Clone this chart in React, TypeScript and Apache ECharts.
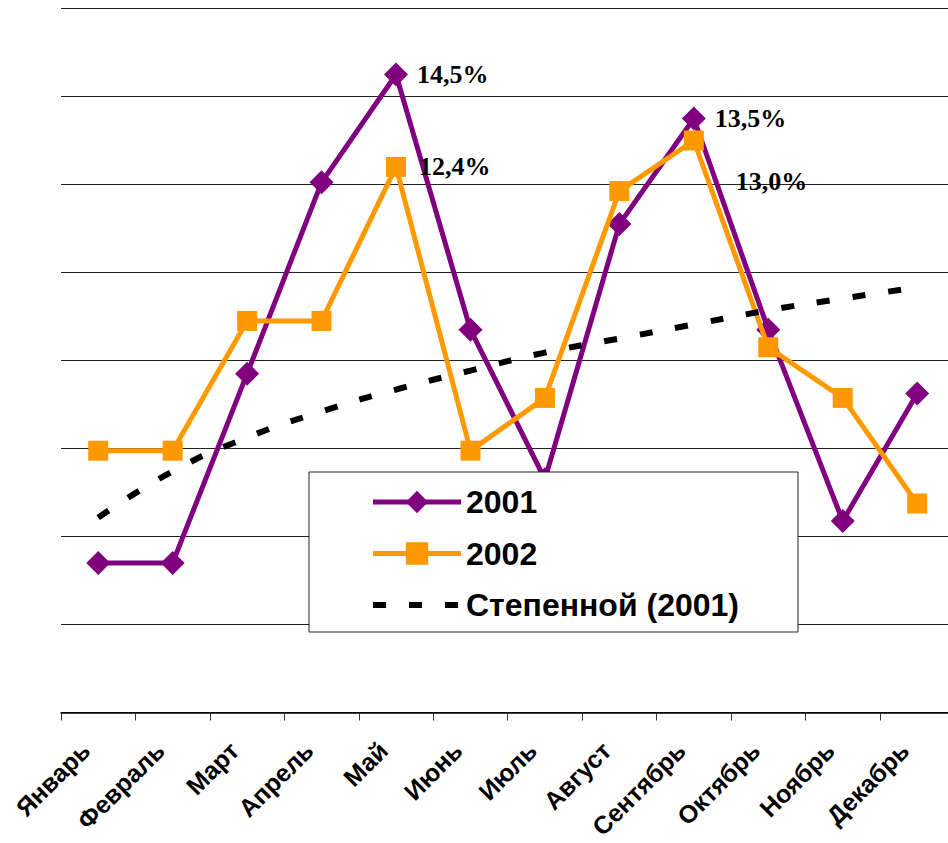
import React, { useEffect, useRef } from "react";
import * as echarts from "echarts";

const categories = ["Январь", "Февраль", "Март", "Апрель", "Май", "Июнь", "Июль", "Август", "Сентябрь", "Октябрь", "Ноябрь", "Декабрь"];
const values2001 = [3.4, 3.4, 7.7, 12.05, 14.5, 8.7, 5.3, 11.1, 13.5, 8.7, 4.35, 7.25];
const values2002 = [5.95, 5.95, 8.9, 8.9, 12.4, 5.95, 7.15, 11.85, 13.0, 8.3, 7.15, 4.75];
const trend2001 = [4.43, 5.48, 6.25, 6.84, 7.34, 7.77, 8.18, 8.5, 8.82, 9.14, 9.41, 9.66];
const seriesNames = ["2001", "2002", "Степенной (2001)"];
const labeled2001 = [4, 8];
const labeled2002 = [4, 8];

const fmt = (v: number) => v.toFixed(1).replace(".", ",") + "%";

const labelStyle = {
  fontFamily: "Liberation Serif",
  fontWeight: "bold" as const,
  fontSize: 26,
  color: "#000",
};

export default function App() {
  const ref = useRef<HTMLDivElement>(null);
  useEffect(() => {
    if (!ref.current) return;
    const chart = echarts.init(ref.current, null, { renderer: "svg" });
    const d2001 = values2001.map((v, i) =>
      labeled2001.includes(i)
        ? { value: v, label: { show: true, position: "right", distance: 9, formatter: fmt(v), ...labelStyle } }
        : v
    );
    const d2002 = values2002.map((v, i) => {
      if (!labeled2002.includes(i)) return v;
      const extra = i === 8 ? { offset: [19, 41] } : {};
      return { value: v, label: { show: true, position: "right", distance: 13, formatter: fmt(v), ...labelStyle, ...extra } };
    });
    chart.setOption({
      animation: false,
      backgroundColor: "#fff",
      grid: { left: 61, top: 8.5, width: 893.4, height: 704, containLabel: false, outerBoundsMode: "none" },
      xAxis: {
        type: "category",
        data: categories,
        boundaryGap: true,
        axisLine: { show: true, lineStyle: { color: "#000", width: 1.5 } },
        axisTick: { show: true, length: 8, lineStyle: { color: "#333", width: 1 } },
        axisLabel: {
          rotate: 45,
          interval: 0,
          margin: 21,
          padding: [0, 18, 0, 0],
          fontFamily: "Liberation Sans",
          fontWeight: "bold",
          fontSize: 25,
          color: "#000",
        },
      },
      yAxis: {
        type: "value",
        min: 0,
        max: 16,
        interval: 2,
        axisLine: { show: false },
        axisTick: { show: false },
        axisLabel: { show: false },
        splitLine: { show: true, lineStyle: { color: "#222", width: 1 } },
      },
      legend: {
        orient: "vertical",
        left: 309,
        top: 472,
        data: seriesNames,
        itemWidth: 88,
        itemHeight: 28,
        itemGap: 19.5,
        padding: [14, 59, 11, 61],
        backgroundColor: "#fff",
        borderColor: "#222",
        borderWidth: 1,
        borderRadius: 0,
        lineStyle: { width: "inherit" },
        textStyle: {
          fontFamily: "Liberation Sans",
          fontWeight: "bold",
          fontSize: 32,
          lineHeight: 32,
          color: "#000",
        },
      },
      series: [
        {
          name: seriesNames[0],
          type: "line",
          data: d2001,
          symbol: "diamond",
          symbolSize: 24,
          lineStyle: { color: "#800080", width: 5 },
          itemStyle: { color: "#800080" },
          z: 2,
        },
        {
          name: seriesNames[1],
          type: "line",
          data: d2002,
          symbol: "rect",
          symbolSize: 20,
          lineStyle: { color: "#FF9900", width: 5 },
          itemStyle: { color: "#FF9900" },
          z: 3,
        },
        {
          name: seriesNames[2],
          type: "line",
          data: trend2001,
          symbol: "none",
          smooth: true,
          lineStyle: { color: "#000", width: 6, type: [13, 23] },
          itemStyle: { color: "rgba(0,0,0,0)" },
          z: 4,
        },
      ],
    });
    return () => chart.dispose();
  }, []);
  return (
    <div
      ref={ref}
      style={{ position: "fixed", left: 0, top: 0, width: 948, height: 843, background: "#fff" }}
    />
  );
}
